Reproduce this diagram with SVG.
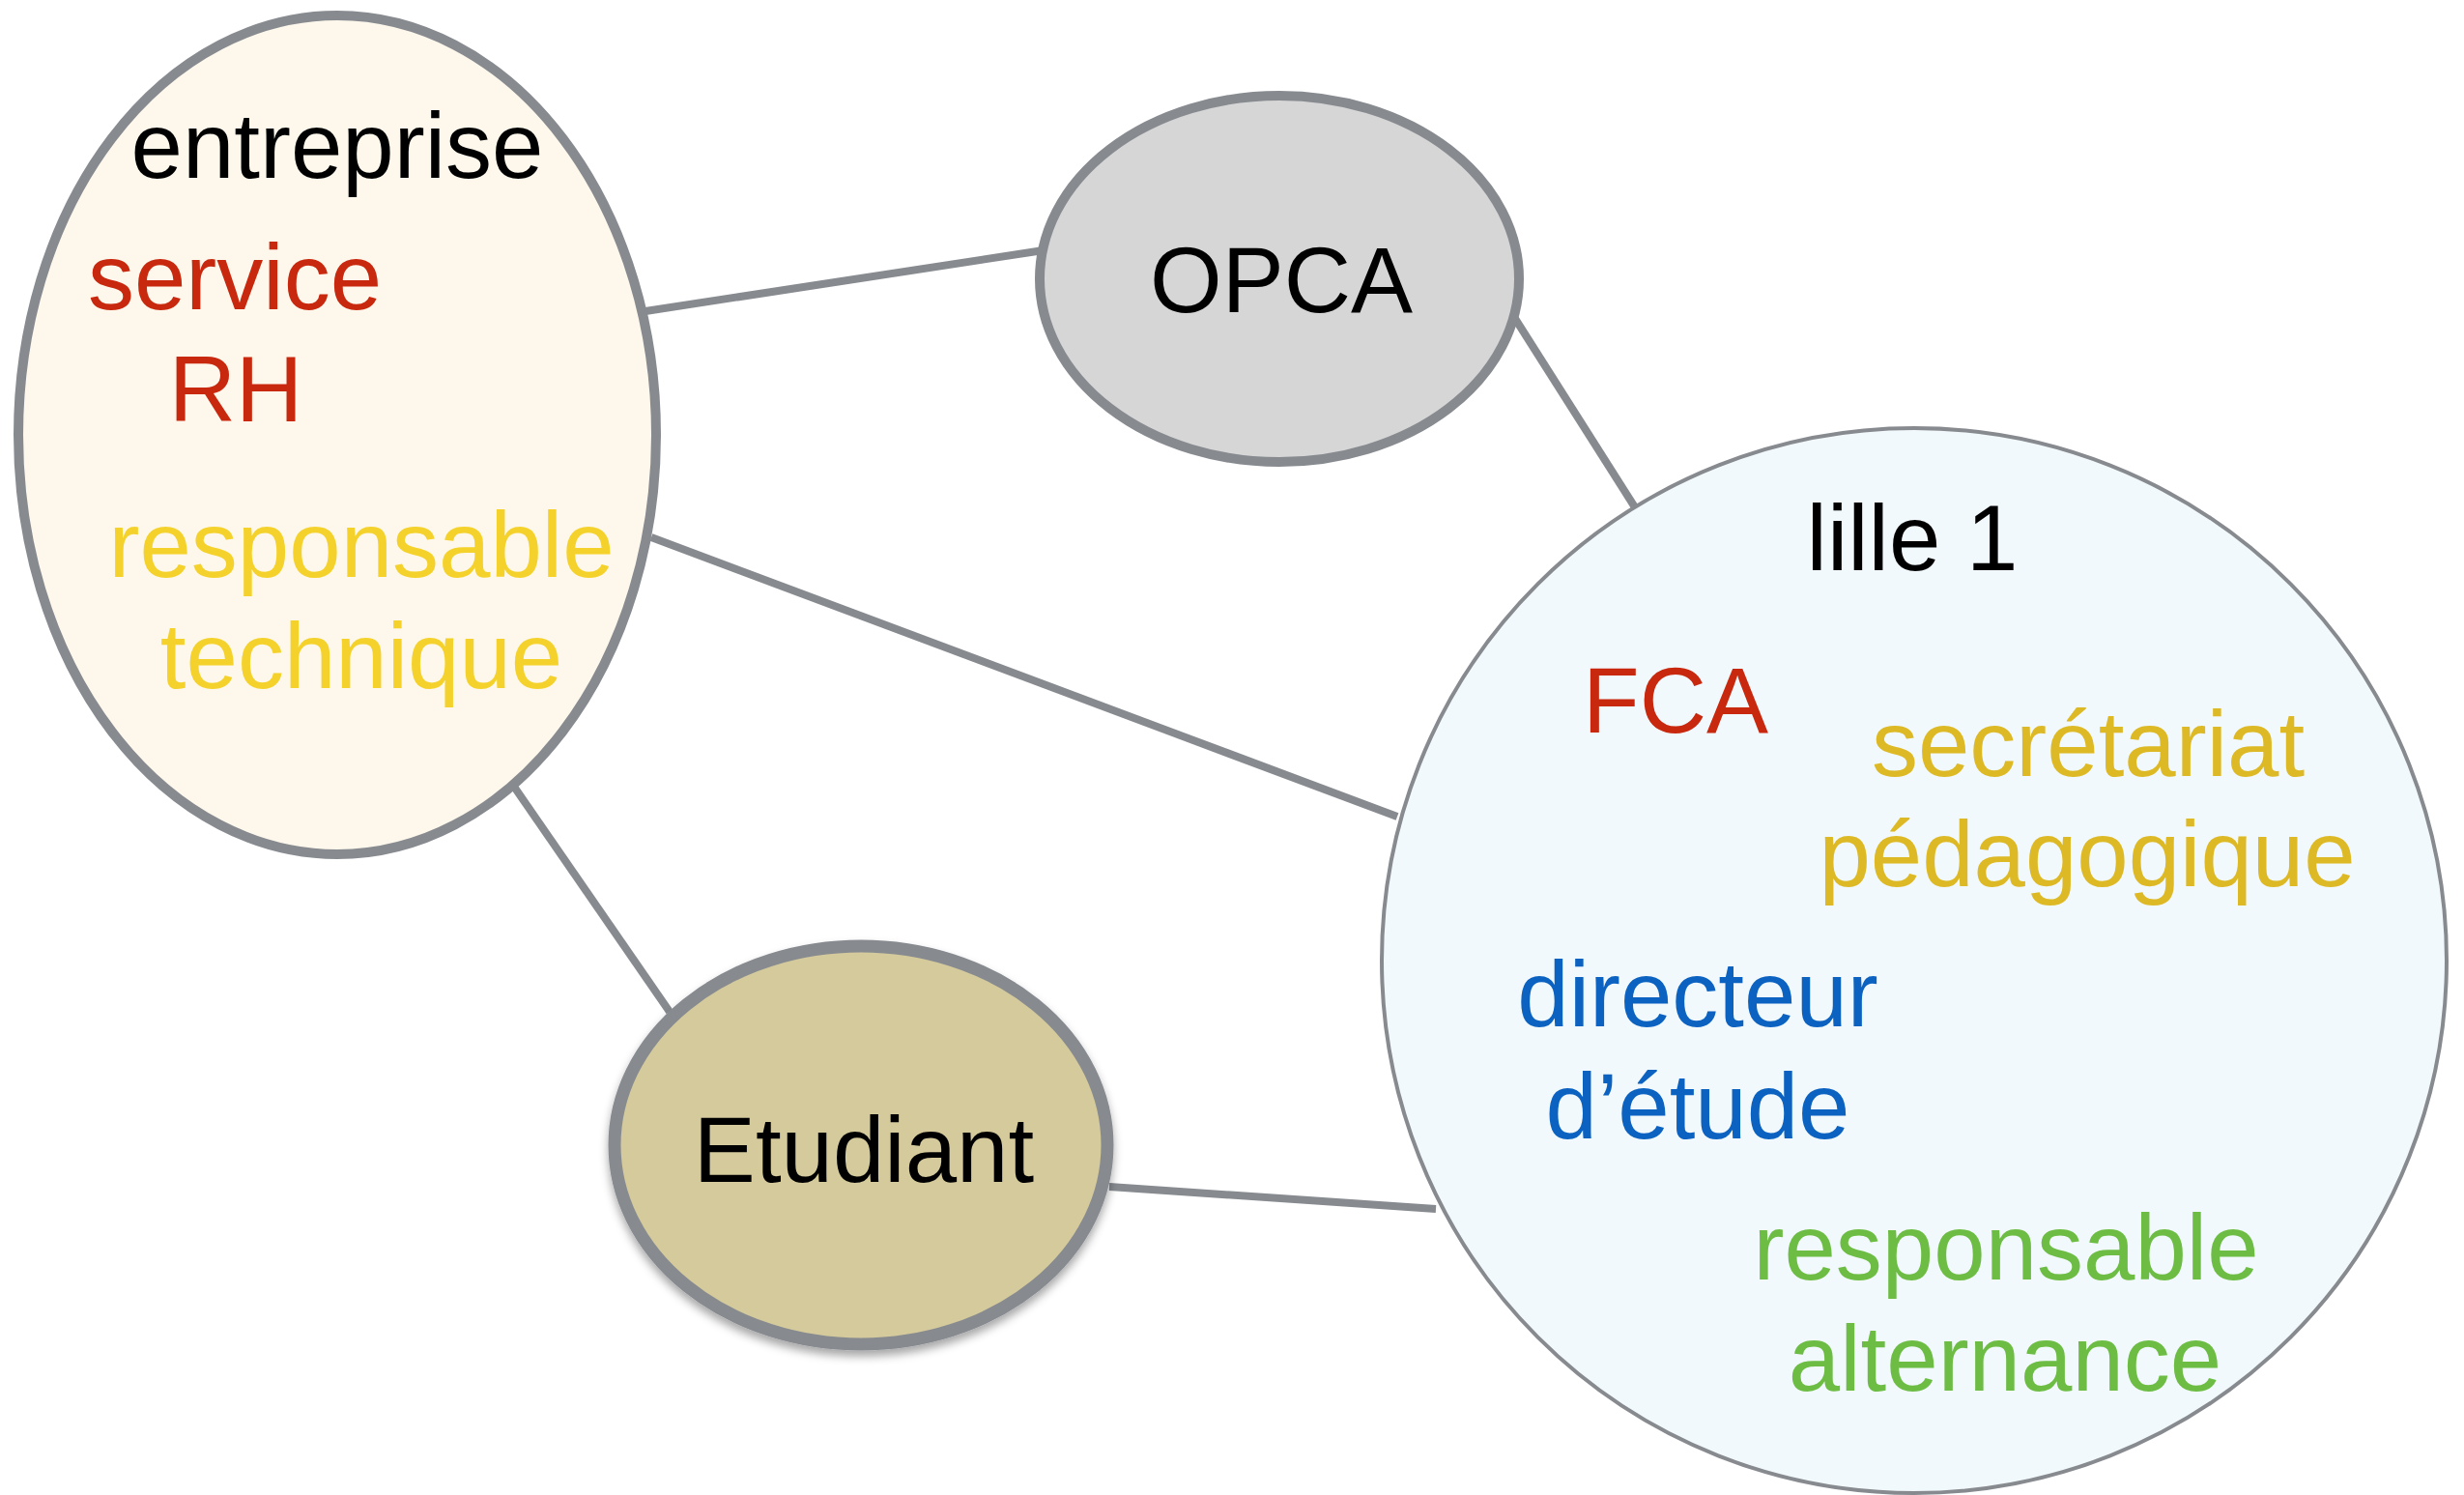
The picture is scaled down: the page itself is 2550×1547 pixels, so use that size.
<svg xmlns="http://www.w3.org/2000/svg" width="2550" height="1547" viewBox="0 0 2550 1547">
<defs>
<style>
.lbl{font-family:"Liberation Sans",Arial,sans-serif;font-size:96px;text-anchor:middle}
.edge{stroke:#878B90;stroke-width:8;fill:none}
.node{stroke:#878B90}
</style>
<filter id="shadow" x="-20%" y="-20%" width="140%" height="150%">
<feDropShadow dx="0" dy="6" stdDeviation="5" flood-color="#000" flood-opacity="0.35"/>
</filter>
</defs>
<rect width="2550" height="1547" fill="#ffffff"/>
<g id="connectors">
<line class="edge" x1="668" y1="322" x2="1080" y2="259"/>
<line class="edge" x1="1565" y1="325" x2="1692" y2="525"/>
<line class="edge" x1="674" y1="556" x2="1446" y2="845"/>
<line class="edge" x1="532" y1="814" x2="693" y2="1047"/>
<line class="edge" x1="1148" y1="1228" x2="1486" y2="1251"/>
</g>
<g id="entreprise">
<ellipse class="node" cx="349" cy="450" rx="330" ry="434" fill="#FEF8EC" stroke-width="10"/>
<text class="lbl" x="349" y="184" fill="#000000">entreprise</text>
<text class="lbl" x="243" y="320" fill="#C8280E">service</text>
<text class="lbl" x="244" y="436" fill="#C8280E">RH</text>
<text class="lbl" x="374" y="597" fill="#F4D22B">responsable</text>
<text class="lbl" x="374" y="712" fill="#F4D22B">technique</text>
</g>
<g id="opca">
<ellipse class="node" cx="1324" cy="288.5" rx="248" ry="189.5" fill="#D6D6D6" stroke-width="10"/>
<text class="lbl" x="1326" y="323" fill="#000000">OPCA</text>
</g>
<g id="lille1">
<circle class="node" cx="1981" cy="994" r="551" fill="#F2F9FD" stroke-width="4"/>
<text class="lbl" x="1979" y="590" fill="#000000">lille 1</text>
<text class="lbl" x="1734" y="758" fill="#C8280E">FCA</text>
<text class="lbl" x="2161" y="803" fill="#DDB925">secrétariat</text>
<text class="lbl" x="2160" y="917" fill="#DDB925">pédagogique</text>
<text class="lbl" x="1757" y="1062" fill="#0B62C0">directeur</text>
<text class="lbl" x="1757" y="1178" fill="#0B62C0">d’étude</text>
<text class="lbl" x="2076" y="1324" fill="#6DBD45">responsable</text>
<text class="lbl" x="2075" y="1439" fill="#6DBD45">alternance</text>
</g>
<g id="etudiant">
<ellipse class="node" cx="891" cy="1185" rx="255" ry="206" fill="#D5CA9C" stroke-width="13" filter="url(#shadow)"/>
<text class="lbl" x="894" y="1223" fill="#000000">Etudiant</text>
</g>
</svg>
